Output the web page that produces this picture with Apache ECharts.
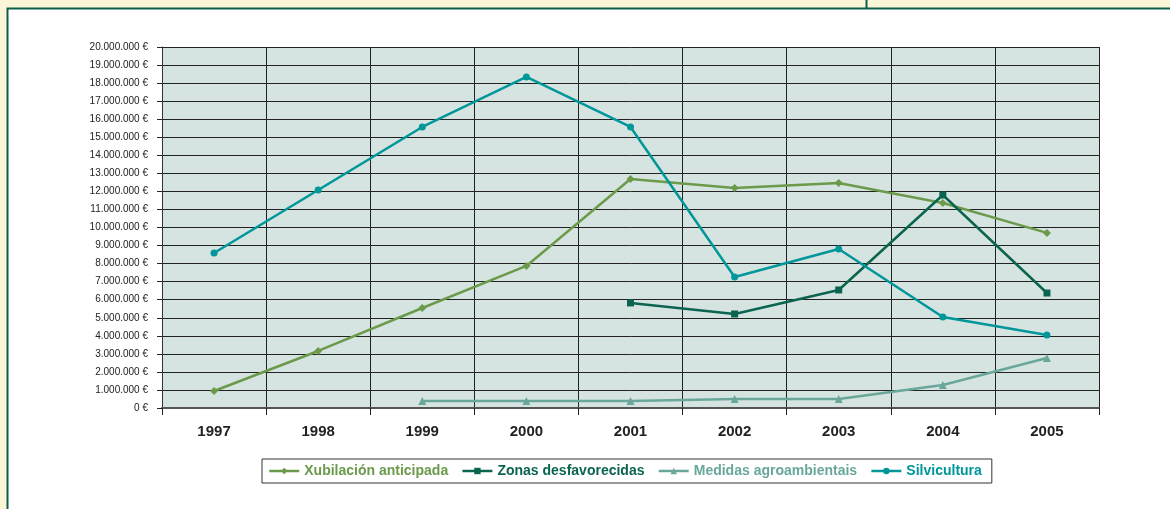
<!DOCTYPE html>
<html lang="es">
<head>
  <meta charset="UTF-8">
  <title>Axudas</title>
  <script src="https://cdn.jsdelivr.net/npm/echarts@6/dist/echarts.min.js"></script>
  <style>
    html, body { margin: 0; padding: 0; background: #fdf5d8; }
    #main { width: 1170px; height: 509px; }
  </style>
</head>
<body>
  <div id="main"></div>
  <script type="text/javascript">
    // categorias (anos)
    var years = ['1997', '1998', '1999', '2000', '2001', '2002', '2003', '2004', '2005'];
    var xubilacion = [940000, 3160000, 5540000, 7870000, 12690000, 12190000, 12470000, 11360000, 9700000];
    var zonas = [null, null, null, null, 5820000, 5210000, 6540000, 11800000, 6370000];
    var medidas = [null, null, 390000, 390000, 390000, 500000, 500000, 1270000, 2770000];
    var silvicultura = [8590000, 12080000, 15570000, 18340000, 15570000, 7260000, 8810000, 5040000, 4040000];
    var seriesNames = ['Xubilación anticipada', 'Zonas desfavorecidas', 'Medidas agroambientais', 'Silvicultura'];
    var colors = ['#6b9a4b', '#0b6450', '#6aa79b', '#00969a'];

    function fmtEuro(v) {
      if (v === 0) return '0 €';
      return String(v).replace(/\B(?=(\d{3})+(?!\d))/g, '.') + ' €';
    }

    function mkSeries(name, data, color, symbol, size) {
      return {
        name: name,
        type: 'line',
        data: data,
        symbol: symbol,
        symbolSize: size,
        connectNulls: false,
        lineStyle: { color: color, width: 2.5 },
        itemStyle: { color: color },
        emphasis: { disabled: true }
      };
    }

    var myChart = echarts.init(document.getElementById('main'));
    var option = {
      animation: false,
      backgroundColor: '#fdf5d8',
      textStyle: { fontFamily: 'Liberation Sans, Arial, sans-serif' },
      graphic: [
        { type: 'rect', shape: { x: 7.5, y: 8.5, width: 1180, height: 520 },
          style: { fill: '#ffffff', stroke: '#0b5e4a', lineWidth: 2 }, z: -10 },
        { type: 'line', shape: { x1: 866.5, y1: 0, x2: 866.5, y2: 9 },
          style: { stroke: '#0b5e4a', lineWidth: 2 }, z: -10 },
        { type: 'rect', shape: { x: 162, y: 47, width: 937, height: 361 },
          style: { fill: '#d5e4e1' }, z: -5 }
      ],
      color: colors,
      legend: {
        bottom: 26,
        left: 262,
        itemWidth: 30,
        itemHeight: 8,
        itemGap: 13,
        padding: [5, 10, 5, 6],
        borderColor: '#333',
        borderWidth: 1,
        backgroundColor: '#fff',
        lineStyle: { width: 2.5 },
        textStyle: { fontSize: 14, fontWeight: 'bold' },
        selectedMode: false
      },
      grid: { left: 162, right: 71, top: 47, bottom: 101, containLabel: false },
      xAxis: {
        type: 'category',
        data: years,
        boundaryGap: true,
        axisLine: { lineStyle: { color: '#555', width: 2 } },
        axisTick: { show: true, length: 7, lineStyle: { color: '#222' } },
        axisLabel: { fontSize: 15, fontWeight: 'bold', color: '#222', margin: 16 },
        splitLine: { show: true, lineStyle: { color: '#222', width: 1 } }
      },
      yAxis: {
        type: 'value',
        min: 0,
        max: 20000000,
        interval: 1000000,
        axisLine: { show: true, lineStyle: { color: '#333' } },
        axisTick: { show: true, length: 5, lineStyle: { color: '#222' } },
        axisLabel: { fontSize: 10, color: '#222', margin: 14, formatter: fmtEuro },
        splitLine: { show: true, lineStyle: { color: '#222', width: 1 } }
      },
      series: [
        mkSeries(seriesNames[0], xubilacion, colors[0], 'diamond', 8),
        mkSeries(seriesNames[1], zonas, colors[1], 'rect', 7),
        mkSeries(seriesNames[2], medidas, colors[2], 'triangle', 8),
        mkSeries(seriesNames[3], silvicultura, colors[3], 'circle', 7)
      ]
    };
    // cores do texto da lenda iguais as series
    option.legend.data = seriesNames.map(function (n, i) {
      return { name: n, textStyle: { color: colors[i] } };
    });
    myChart.setOption(option);
  </script>
</body>
</html>
